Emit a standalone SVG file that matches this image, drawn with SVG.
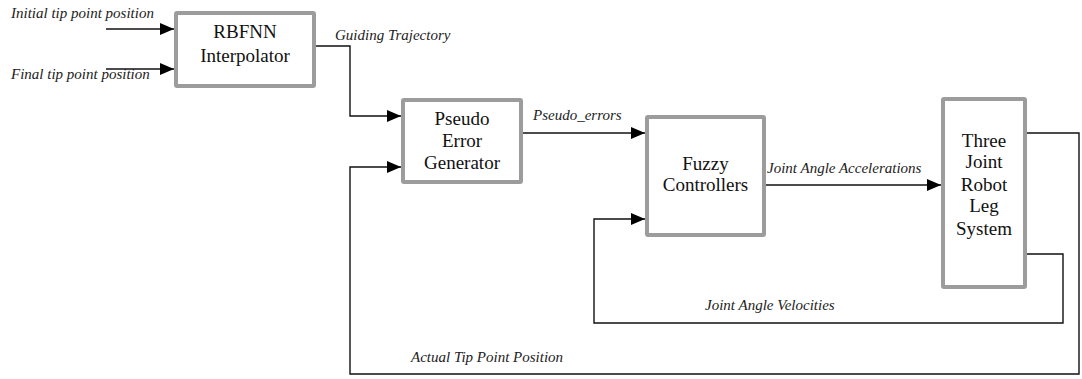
<svg xmlns="http://www.w3.org/2000/svg" width="1082" height="379" viewBox="0 0 1082 379">
  <style>
    .box { fill: #ffffff; stroke: #9c9c9c; stroke-width: 4; }
    .name { font-size: 19px; fill: #111; text-anchor: middle; }
    .lbl { font-size: 15px; font-style: italic; fill: #222; }
    .wire { fill: none; stroke: #111; stroke-width: 1.4; }
  </style>
  <defs>
    <marker id="arrow" markerUnits="userSpaceOnUse" markerWidth="14" markerHeight="12" refX="14" refY="6" orient="auto">
      <path d="M0,0 L14,6 L0,12 z" fill="#000"/>
    </marker>
  </defs>
  <rect width="1082" height="379" fill="#ffffff"/>

  <g font-family="Liberation Serif, DejaVu Serif, serif">
  <!-- signal lines -->
  <g id="connectors">
    <polyline class="wire" points="106,29 174,29" marker-end="url(#arrow)"/>
    <polyline class="wire" points="106,69 174,69" marker-end="url(#arrow)"/>
    <polyline class="wire" points="316,46 350,46 350,116 401,116" marker-end="url(#arrow)"/>
    <polyline class="wire" points="523,133 645,133" marker-end="url(#arrow)"/>
    <polyline class="wire" points="766,185 941,185" marker-end="url(#arrow)"/>
    <polyline class="wire" points="1027,133 1079,133 1079,374 350,374 350,167 401,167" marker-end="url(#arrow)"/>
    <polyline class="wire" points="1027,254 1063,254 1063,323 594,323 594,219 645,219" marker-end="url(#arrow)"/>
    <text class="lbl" x="11" y="18">Initial tip point position</text>
    <text class="lbl" x="11" y="79">Final tip point position</text>
    <text class="lbl" x="335" y="40">Guiding Trajectory</text>
    <text class="lbl" x="533" y="120">Pseudo_errors</text>
    <text class="lbl" x="767" y="173">Joint Angle Accelerations</text>
    <text class="lbl" x="705" y="310">Joint Angle Velocities</text>
    <text class="lbl" x="411" y="362">Actual Tip Point Position</text>
  </g>

  <g id="rbfnn">
    <rect class="box" x="176" y="13" width="138" height="73" rx="1"/>
    <text class="name" x="245" y="38">RBFNN</text>
    <text class="name" x="245" y="62">Interpolator</text>
  </g>

  <g id="pseudo-error">
    <rect class="box" x="403" y="100" width="118" height="82" rx="1"/>
    <text class="name" x="462" y="125">Pseudo</text>
    <text class="name" x="462" y="147">Error</text>
    <text class="name" x="462" y="169">Generator</text>
  </g>

  <g id="fuzzy">
    <rect class="box" x="647" y="117" width="117" height="118" rx="1"/>
    <text class="name" x="705.5" y="170">Fuzzy</text>
    <text class="name" x="705.5" y="191">Controllers</text>
  </g>

  <g id="robot-leg">
    <rect class="box" x="943" y="99" width="82" height="188" rx="1"/>
    <text class="name" x="984" y="147">Three</text>
    <text class="name" x="984" y="168">Joint</text>
    <text class="name" x="984" y="191">Robot</text>
    <text class="name" x="984" y="212">Leg</text>
    <text class="name" x="984" y="235">System</text>
  </g>
  </g>
</svg>
